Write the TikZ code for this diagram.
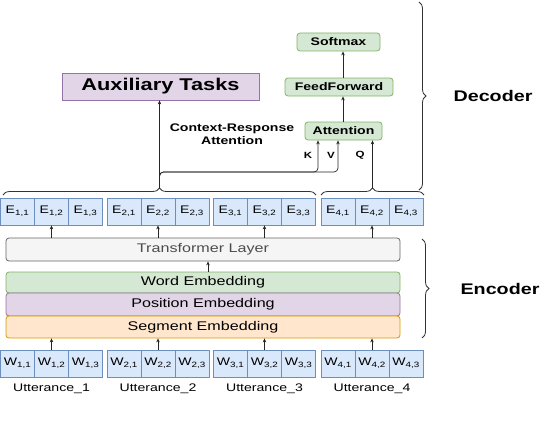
\documentclass[tikz,border=0pt]{standalone}
\usepackage{fontspec}
\setmainfont{Liberation Sans}[FakeStretch=1.28]
\usetikzlibrary{arrows.meta,decorations.pathreplacing}
\definecolor{cellfill}{HTML}{DAE8FC}
\definecolor{celldraw}{HTML}{6C8EBF}
\definecolor{grnfill}{HTML}{D5E8D4}
\definecolor{grndraw}{HTML}{82B366}
\definecolor{purfill}{HTML}{E1D5E7}
\definecolor{purdraw}{HTML}{9673A6}
\definecolor{orgfill}{HTML}{FFE6CC}
\definecolor{orgdraw}{HTML}{D79B00}
\definecolor{gryfill}{HTML}{F5F5F5}
\definecolor{grydraw}{HTML}{666666}
\definecolor{grytext}{HTML}{4D4D4D}
\begin{document}
\begin{tikzpicture}[x=1pt,y=-1pt,
  cell/.style={draw=celldraw,fill=cellfill,line width=0.8pt,minimum width=34pt,minimum height=27pt,inner sep=0pt,font=\fontsize{11}{13}\selectfont},
  layer/.style={rounded corners=3pt,line width=0.8pt,minimum width=394pt,inner sep=0pt,font=\fontsize{12.6}{14}\selectfont},
  dec/.style={draw=grndraw,fill=grnfill,rounded corners=3pt,line width=0.8pt,minimum height=18pt,inner sep=0pt,font=\bfseries\fontsize{11}{13}\selectfont},
  arr/.style={-{Stealth[length=4pt,width=3.5pt]},line width=0.7pt,draw=black!85},
  brc/.style={decorate,decoration={brace,amplitude=7pt},line width=0.8pt,draw=black!80},
  lbl/.style={font=\fontsize{11}{13}\selectfont,inner sep=0pt},
  kvq/.style={font=\bfseries\fontsize{9}{11}\selectfont,inner sep=0pt}
]
\useasboundingbox (0,0) rectangle (540,428);

% token cells
\foreach \g/\gx in {1/0.5,2/107,3/213.5,4/321}{
  \foreach \c in {1,2,3}{
    \node[cell] (e\g\c) at ({\gx+17+34*(\c-1)},211.5) {E\textsubscript{\g,\c}};
    \node[cell] (w\g\c) at ({\gx+17+34*(\c-1)},363.5) {W\textsubscript{\g,\c}};
  }
  \node[lbl] (u\g) at ({\gx+51},389) {Utterance\_\g};
}

% encoder layers
\node[layer,draw=grydraw,fill=gryfill,text=grytext,minimum height=23pt] (tl) at (203,249.5) {Transformer Layer};
\node[layer,draw=grndraw,fill=grnfill,minimum height=21pt] (we) at (203,282.5) {Word Embedding};
\node[layer,draw=purdraw,fill=purfill,minimum height=23pt] (pe) at (203,304.5) {Position Embedding};
\node[layer,draw=orgdraw,fill=orgfill,minimum height=22pt] (se) at (203,327) {Segment Embedding};

\foreach \g in {1,2,3,4}{
  \draw[arr] (w\g2.north) -- (w\g2.north |- se.south);
  \draw[arr] (e\g2.south |- tl.north) -- (e\g2.south);
}
\draw[arr] ([xshift=5pt]we.north) -- ([xshift=5pt]tl.south);

% decoder
\node[dec,minimum width=77pt] (att) at (343.5,131) {Attention};
\node[dec,minimum width=108pt] (ff) at (339,87) {FeedForward};
\node[dec,minimum width=83pt] (sm) at (338.5,42) {Softmax};
\draw[arr] (att.north -| 343,0) -- (ff.south -| 343,0);
\draw[arr] (ff.north -| 343,0) -- (sm.south -| 343,0);

\node[draw=purdraw,fill=purfill,line width=0.8pt,minimum width=197pt,minimum height=27pt,inner sep=0pt,font=\bfseries\fontsize{17}{19}\selectfont] (aux) at (160.5,86.5) {Auxiliary Tasks};

\node[font=\bfseries\fontsize{11}{13}\selectfont,align=center,inner sep=0pt] (cra) at (232,134.5) {Context-Response\\Attention};

% braces
\draw[brc] (3,195) -- (316,195);
\draw[brc] (321,195) -- (424,195);
\coordinate (t1) at (159.5,188);
\coordinate (t2) at (372.5,188);
\coordinate (kx) at (318,0);
\coordinate (vx) at (338,0);

\draw[arr] (t1) -- (aux.south -| t1);
\draw[arr,rounded corners=4pt] (t1) -- (159.5,172) -| (att.south -| kx);
\draw[arr,rounded corners=4pt] (t1) -- (159.5,172) -| (att.south -| vx);
\draw[arr] (t2) -- (att.south -| t2);

\node[kvq] (k) at (308,155) {K};
\node[kvq] (v) at (331,155) {V};
\node[kvq] (q) at (360,155) {Q};

\draw[brc] (419,2) -- (419,190);
\draw[brc] (422,239) -- (422,338);
\node[font=\bfseries\fontsize{15.4}{17}\selectfont,inner sep=0pt] (decl) at (493,96) {Decoder};
\node[font=\bfseries\fontsize{15.4}{17}\selectfont,inner sep=0pt] (encl) at (500,289) {Encoder};
\end{tikzpicture}
\end{document}
